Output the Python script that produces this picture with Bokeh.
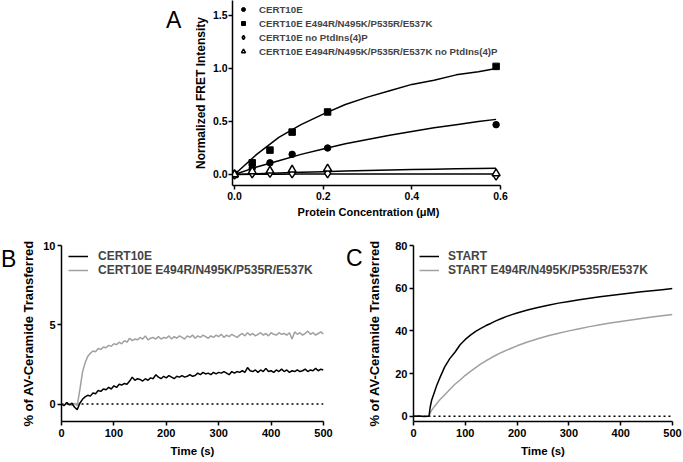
from bokeh.plotting import figure
from bokeh.models import (Range1d, FixedTicker, Legend, LegendItem, Span, Div,
                          Spacer, NumeralTickFormatter)
from bokeh.layouts import row, column
from bokeh.embed import file_html
from bokeh.resources import INLINE

FONT = "Liberation Sans"
GRAY = "#a0a0a0"

# ---------------- Panel A data ----------------
conc = [0.0, 0.04, 0.08, 0.13, 0.21, 0.59]
fret_wt = [0.0, 0.06, 0.11, 0.19, 0.25, 0.47]
fret_mut = [0.0, 0.11, 0.23, 0.40, 0.59, 1.02]
fret_wt_nopi = [0.0, 0.01, 0.015, 0.01, 0.01, -0.01]
fret_mut_nopi = [0.0, 0.03, 0.035, 0.045, 0.055, 0.01]

fit_conc = [0.0, 0.05, 0.10, 0.15, 0.20, 0.25, 0.30, 0.35, 0.40, 0.45, 0.50, 0.55, 0.59]
fit_wt = [0.0, 0.07, 0.13, 0.19, 0.24, 0.29, 0.33, 0.37, 0.405, 0.44, 0.47, 0.50, 0.52]
fit_mut = [0.0, 0.19, 0.35, 0.47, 0.57, 0.66, 0.73, 0.79, 0.85, 0.89, 0.94, 0.97, 1.0]
fit_wt_nopi = [0.0, 0.002, 0.003, 0.004, 0.004, 0.004, 0.005, 0.005, 0.005, 0.005, 0.005, 0.005, 0.005]
fit_mut_nopi = [0.0, 0.008, 0.015, 0.021, 0.027, 0.032, 0.037, 0.042, 0.046, 0.05, 0.054, 0.057, 0.06]

labels_A = ["CERT10E", "CERT10E E494R/N495K/P535R/E537K",
            "CERT10E no PtdIns(4)P", "CERT10E E494R/N495K/P535R/E537K no PtdIns(4)P"]
ticks_A_x = [0.0, 0.2, 0.4, 0.6]
ticks_A_y = [0.0, 0.5, 1.0, 1.5]

# ---------------- Panel B data ----------------
time_b = list(range(0, 505, 5))
b_wt = [0.0, -0.1, 0.1, -0.05, 0.05, -0.2, -0.35, 0.05, 0.3, 0.45,
        0.55, 0.5, 0.7, 0.65, 0.85, 0.8, 0.95, 0.9, 1.05, 0.95,
        1.15, 1.05, 1.25, 1.2, 1.3, 1.25, 1.45, 1.7, 1.5, 1.6,
        1.55, 1.45, 1.6, 1.5, 1.65, 1.6, 1.85, 1.7, 1.6, 1.75,
        1.65, 1.8, 1.7, 1.6, 1.75, 1.7, 1.8, 1.7, 1.75, 1.85,
        1.75, 1.8, 1.95, 1.85, 2.0, 1.9, 1.95, 1.85, 2.0, 1.9,
        2.0, 1.95, 2.05, 1.95, 1.85, 2.05, 1.95, 2.05, 2.0, 2.1,
        2.0, 2.3, 2.1, 2.05, 2.15, 2.0, 2.15, 2.05, 2.25, 2.05,
        2.1, 2.0, 2.15, 2.05, 2.2, 2.05, 2.15, 2.0, 2.1, 2.05,
        2.15, 2.05, 2.1, 2.2, 2.05, 2.15, 2.1, 2.25, 2.1, 2.2,
        2.15]
b_mut = [0.05, -0.1, 0.1, 0.0, -0.1, 0.05, -0.1, 0.9, 2.0, 2.6,
         3.0, 3.2, 3.35, 3.3, 3.5, 3.45, 3.6, 3.55, 3.7, 3.65,
         3.8, 3.75, 3.9, 3.8, 4.0, 3.9, 4.15, 4.0, 4.1, 4.05,
         4.2, 4.1, 4.3, 4.05, 4.15, 4.2, 4.1, 4.25, 4.1, 4.2,
         4.15, 4.3, 4.1, 4.25, 4.15, 4.3, 4.2, 4.1, 4.3, 4.2,
         4.35, 4.15, 4.3, 4.2, 4.35, 4.25, 4.15, 4.3, 4.2, 4.35,
         4.25, 4.4, 4.2, 4.35, 4.25, 4.4, 4.3, 4.2, 4.35, 4.45,
         4.3, 4.5, 4.35, 4.45, 4.3, 4.4, 4.5, 4.35, 4.45, 4.3,
         4.5, 4.4, 4.35, 4.5, 4.4, 4.45, 4.35, 4.5, 4.1, 4.55,
         4.4, 4.5, 4.35, 4.45, 4.6, 4.4, 4.5, 4.35, 4.45, 4.55,
         4.4]
labels_B = ["CERT10E", "CERT10E E494R/N495K/P535R/E537K"]

# ---------------- Panel C data ----------------
time_c = [0, 10, 20, 28, 30, 32, 35, 40, 45, 50, 60, 70, 80, 90, 100, 110, 120, 130,
          140, 150, 160, 170, 180, 190, 200, 220, 240, 260, 280, 300, 320, 340, 360,
          380, 400, 420, 440, 460, 480, 500]
c_start = [0.0, 0.1, -0.1, 0.0, 0.0, 4.0, 7.5, 11.0, 14.5, 17.5, 23.0, 27.0, 30.0, 33.5,
           36.0, 38.0, 39.8, 41.2, 42.5, 43.6, 44.8, 45.8, 46.8, 47.6, 48.4, 49.8, 51.0,
           52.0, 53.0, 53.8, 54.6, 55.3, 56.0, 56.6, 57.2, 57.8, 58.3, 58.8, 59.3, 59.8]
c_mut = [0.0, 0.0, 0.0, 0.0, 0.0, 1.3, 2.8, 4.5, 6.0, 7.5, 10.0, 12.5, 15.0, 17.0,
         19.2, 21.0, 22.8, 24.5, 26.0, 27.4, 28.7, 29.9, 31.0, 32.0, 33.0, 34.8, 36.3,
         37.7, 38.9, 40.0, 41.0, 42.0, 42.9, 43.7, 44.4, 45.1, 45.8, 46.5, 47.1, 47.7]
labels_C = ["START", "START E494R/N495K/P535R/E537K"]

ticks_time = [0, 100, 200, 300, 400, 500]
ticks_B_y = [0, 5, 10]
ticks_C_y = [0, 20, 40, 60, 80]


def style_axes(p, tick_size, xtitle_size, ytitle_size):
    for ax in (p.xaxis[0], p.yaxis[0]):
        ax.axis_line_width = 1.5
        ax.axis_line_color = "black"
        ax.major_tick_line_width = 1.5
        ax.major_tick_line_color = "black"
        ax.major_tick_out = 4
        ax.major_tick_in = 0
        ax.minor_tick_line_color = None
        ax.major_label_text_font = FONT
        ax.major_label_text_font_style = "bold"
        ax.major_label_text_font_size = tick_size
        ax.major_label_text_color = "black"
        ax.major_label_standoff = 2
        ax.axis_label_text_font = FONT
        ax.axis_label_text_font_style = "bold"
        ax.axis_label_text_color = "black"
        ax.axis_label_standoff = 2
    p.xaxis.axis_label_text_font_size = xtitle_size
    p.yaxis.axis_label_text_font_size = ytitle_size
    p.xgrid.visible = False
    p.ygrid.visible = False
    p.outline_line_color = None


# ---------------- Panel A ----------------
pA = figure(width=320, height=228, x_range=Range1d(-0.0045, 0.60895),
            y_range=Range1d(-0.1038, 1.6415), output_backend="svg",
            toolbar_location=None, min_border_left=40, min_border_right=6,
            min_border_top=0, min_border_bottom=43,
            x_axis_label="Protein Concentration (\u03bcM)",
            y_axis_label="Normalized FRET Intensity")
style_axes(pA, "10.5px", "11px", "12px")
pA.yaxis.major_label_standoff = 1
pA.xaxis.axis_label_standoff = 3
pA.xaxis.ticker = FixedTicker(ticks=ticks_A_x)
pA.yaxis.ticker = FixedTicker(ticks=ticks_A_y)
pA.xaxis.formatter = NumeralTickFormatter(format="0.0")
pA.yaxis.formatter = NumeralTickFormatter(format="0.0")
pA.xaxis.bounds = (-0.0045, 0.6)

for fy in (fit_wt, fit_mut, fit_wt_nopi, fit_mut_nopi):
    pA.line(fit_conc, fy, line_color="black", line_width=1.5)

rA1 = pA.scatter(conc, fret_wt, marker="circle", size=6.5, color="black")
rA2 = pA.scatter(conc, fret_mut, marker="square", size=6.5, color="black")
rA3 = pA.scatter(conc, fret_wt_nopi, marker="diamond", size=9, line_color="black",
                 fill_color="white", line_width=1.5)
rA4 = pA.scatter(conc, fret_mut_nopi, marker="triangle", size=8, line_color="black",
                 fill_color="white", line_width=1.5)

legA = Legend(items=[LegendItem(label=l, renderers=[r]) for l, r in
                     zip(labels_A, [rA1, rA2, rA3, rA4])],
              location=(6, 127), padding=0, margin=0, spacing=0,
              glyph_width=10, glyph_height=14, label_height=14, label_standoff=11,
              border_line_color=None, background_fill_alpha=0,
              label_text_font=FONT, label_text_font_style="bold",
              label_text_font_size="9.7px")
pA.add_layout(legA)

# ---------------- Panel B ----------------
pB = figure(width=315, height=233, x_range=Range1d(0, 500), y_range=Range1d(-1.1, 10),
            output_backend="svg", toolbar_location=None, min_border_left=43,
            min_border_right=10, min_border_top=17, min_border_bottom=40,
            x_axis_label="Time (s)", y_axis_label="% of AV-Ceramide Transferred")
style_axes(pB, "11px", "11.5px", "13px")
pB.yaxis.axis_label_standoff = 4
pB.xaxis.major_label_standoff = 3
pB.xaxis.axis_label_standoff = 5
pB.xaxis.ticker = FixedTicker(ticks=ticks_time)
pB.yaxis.ticker = FixedTicker(ticks=ticks_B_y)
pB.add_layout(Span(location=0, dimension="width", line_color="black", line_width=1.5,
                   line_dash="2 3", level="underlay"))
rB2 = pB.line(time_b, b_mut, line_color=GRAY, line_width=1.5)
rB1 = pB.line(time_b, b_wt, line_color="black", line_width=1.5)
legB = Legend(items=[LegendItem(label=labels_B[0], renderers=[rB1]),
                     LegendItem(label=labels_B[1], renderers=[rB2])],
              location=(7, 144), padding=0, margin=0, spacing=0,
              glyph_width=20, glyph_height=14, label_height=14, label_standoff=10,
              border_line_color=None, background_fill_alpha=0,
              label_text_font=FONT, label_text_font_style="bold",
              label_text_font_size="12px")
pB.add_layout(legB)

# ---------------- Panel C ----------------
pC = figure(width=318, height=233, x_range=Range1d(0, 500), y_range=Range1d(-2.45, 80),
            output_backend="svg", toolbar_location=None, min_border_left=47,
            min_border_right=10, min_border_top=17, min_border_bottom=40,
            x_axis_label="Time (s)", y_axis_label="% of AV-Ceramide Transferred")
style_axes(pC, "11px", "11.5px", "13px")
pC.yaxis.axis_label_standoff = 10
pC.xaxis.major_label_standoff = 3
pC.xaxis.axis_label_standoff = 5
pC.xaxis.ticker = FixedTicker(ticks=ticks_time)
pC.yaxis.ticker = FixedTicker(ticks=ticks_C_y)
pC.add_layout(Span(location=0, dimension="width", line_color="black", line_width=1.5,
                   line_dash="2 3", level="underlay"))
rC2 = pC.line(time_c, c_mut, line_color=GRAY, line_width=1.5)
rC1 = pC.line(time_c, c_start, line_color="black", line_width=1.5)
legC = Legend(items=[LegendItem(label=labels_C[0], renderers=[rC1]),
                     LegendItem(label=labels_C[1], renderers=[rC2])],
              location=(6, 144), padding=0, margin=0, spacing=0,
              glyph_width=20, glyph_height=14, label_height=14, label_standoff=9,
              border_line_color=None, background_fill_alpha=0,
              label_text_font=FONT, label_text_font_style="bold",
              label_text_font_size="12px")
pC.add_layout(legC)


def letter(ch, w, top, left):
    html = ('<div style="font-family:\'Liberation Sans\',Arial,sans-serif;font-size:23px;'
            'margin-top:%dpx;padding-left:%dpx;color:black">%s</div>'
            % (top, left, ch))
    return Div(text=html, width=w, height=top + 30, margin=0)


top_row = row(Spacer(width=166, height=10, margin=0), letter("A", 24, 4, 0), pA)
bottom_row = row(letter("B", 18, 15, 1), pB, Spacer(width=13, height=10, margin=0),
                 letter("C", 18, 14, 0), pC)
layout = column(top_row, bottom_row)

open("out.html", "w").write(file_html(layout, INLINE))
